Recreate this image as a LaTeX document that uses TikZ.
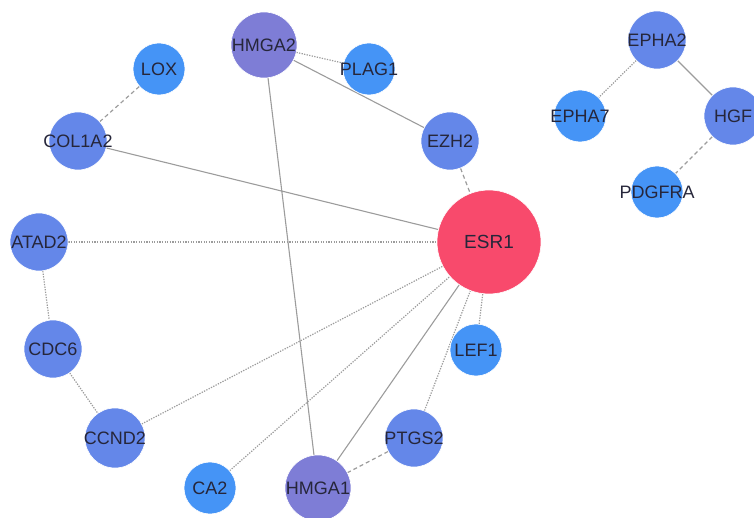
\documentclass[tikz,border=0pt]{standalone}
\usepackage{fontspec}
\setmainfont{Liberation Sans}
\usetikzlibrary{backgrounds}
\definecolor{nblue}{HTML}{6487E9}
\definecolor{lblue}{HTML}{4594F6}
\definecolor{npurp}{HTML}{7E7DD6}
\definecolor{nred}{HTML}{F84A6C}
\definecolor{edgec}{HTML}{9C9C9C}
\definecolor{txt}{HTML}{26263A}
\newcommand{\glabel}[1]{\makebox[0pt]{#1}}
\tikzset{
  gene/.style={circle, inner sep=0pt, text=txt, font=\fontsize{18}{18}\selectfont, draw=white, line width=0.6pt},
  gb/.style={gene, fill=nblue},
  gl/.style={gene, fill=lblue},
  gp/.style={gene, fill=npurp},
  gr/.style={gene, fill=nred},
  esolid/.style={draw=edgec, line width=1.1pt},
  edot/.style={draw=edgec, line width=1.2pt, dash pattern=on 1.3pt off 1.3pt},
  edash/.style={draw=edgec, line width=1.2pt, dash pattern=on 4pt off 3pt},
}
\begin{document}
\begin{tikzpicture}[x=1pt,y=-1pt]
\useasboundingbox (0,0) rectangle (754,518);
\node[gp, minimum size=66pt] (HMGA2) at (264,45) {\glabel{HMGA2}};
\node[gl, minimum size=52pt] (PLAG1) at (369,69) {\glabel{PLAG1}};
\node[gl, minimum size=52pt] (LOX) at (159,69) {\glabel{LOX}};
\node[gb, minimum size=58pt] (EZH2) at (450,141) {\glabel{EZH2}};
\node[gb, minimum size=58pt] (COL1A2) at (78,141) {\glabel{COL1A2}};
\node[gb, minimum size=58pt] (ATAD2) at (39,242) {\glabel{ATAD2}};
\node[gr, minimum size=104pt, font=\fontsize{19}{19}\selectfont] (ESR1) at (489,242) {\glabel{ESR1}};
\node[gb, minimum size=58pt] (CDC6) at (53,349) {\glabel{CDC6}};
\node[gl, minimum size=52pt] (LEF1) at (476,350) {\glabel{LEF1}};
\node[gb, minimum size=60pt] (CCND2) at (115,438) {\glabel{CCND2}};
\node[gb, minimum size=58pt] (PTGS2) at (414,438) {\glabel{PTGS2}};
\node[gl, minimum size=52pt] (CA2) at (210,488) {\glabel{CA2}};
\node[gp, minimum size=66pt] (HMGA1) at (318,488) {\glabel{HMGA1}};
\node[gb, minimum size=58pt] (EPHA2) at (657,40) {\glabel{EPHA2}};
\node[gl, minimum size=52pt] (EPHA7) at (580,116) {\glabel{EPHA7}};
\node[gb, minimum size=58pt] (HGF) at (733,116) {\glabel{HGF}};
\node[gl, minimum size=52pt] (PDGFRA) at (657,192) {\glabel{PDGFRA}};
\begin{scope}[on background layer]
\path[edash] (LOX) -- (COL1A2);
\path[edot] (HMGA2) -- (PLAG1);
\path[esolid] (HMGA2) -- (EZH2);
\path[esolid] (HMGA2) -- (HMGA1);
\path[edash] (EZH2) -- (ESR1);
\path[esolid] (COL1A2) -- (ESR1);
\path[edot] (ATAD2) -- (ESR1);
\path[edot] (ATAD2) -- (CDC6);
\path[edot] (CDC6) -- (CCND2);
\path[edot] (CCND2) -- (ESR1);
\path[edot] (CA2) -- (ESR1);
\path[esolid] (HMGA1) -- (ESR1);
\path[edot] (PTGS2) -- (ESR1);
\path[edot] (LEF1) -- (ESR1);
\path[edash] (PTGS2) -- (HMGA1);
\path[edot] (EPHA2) -- (EPHA7);
\path[esolid] (EPHA2) -- (HGF);
\path[edash] (HGF) -- (PDGFRA);
\end{scope}
\end{tikzpicture}
\end{document}
